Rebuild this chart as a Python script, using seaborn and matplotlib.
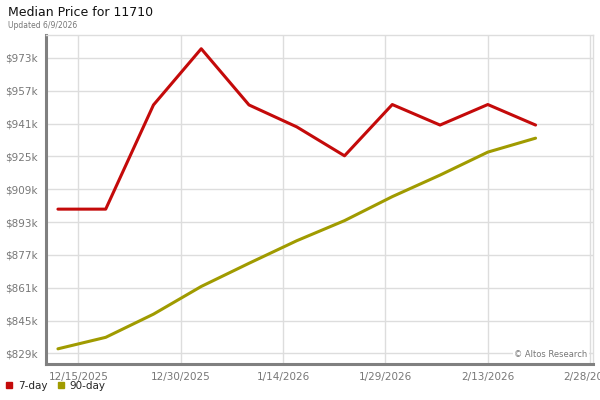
import pandas as pd
import numpy as np
import seaborn as sns
import matplotlib.pyplot as plt
import matplotlib.dates as mdates
from matplotlib.ticker import FuncFormatter
from matplotlib.lines import Line2D

# weekly median price readings
dates = ['2025-12-12', '2025-12-19', '2025-12-26', '2026-01-02', '2026-01-09', '2026-01-16',
         '2026-01-23', '2026-01-30', '2026-02-06', '2026-02-13', '2026-02-20']
price_7day = [899300, 899300, 950100, 977500, 950100, 939400, 925300, 950300, 940300, 950300, 940300]
price_90day = [831200, 836800, 848100, 861600, 872900, 883900, 893700, 905400, 915900, 927100, 933900]

ytick_vals = [829000, 845000, 861000, 877000, 893000, 909000, 925000, 941000, 957000, 973000]
xtick_dates = ['2025-12-15', '2025-12-30', '2026-01-14', '2026-01-29', '2026-02-13', '2026-02-28']

red = '#c40a0a'
olive = '#a09b00'

df = pd.DataFrame({'Date': pd.to_datetime(dates), '7-day': price_7day, '90-day': price_90day})
dt = df.melt(id_vars='Date', var_name='Series', value_name='Price')

sns.set_style('white')
plt.rcParams['font.family'] = ['DejaVu Sans']

fig = plt.figure(figsize=(6, 4), dpi=100)
ax = fig.add_axes([46/600, 36/400, 547/600, 329/400])

sns.lineplot(data=dt, x='Date', y='Price', hue='Series', palette={'7-day': red, '90-day': olive},
             linewidth=2.2, legend=False, ax=ax)

ax.set_ylim(823800, 984200)
ax.set_xlim(pd.Timestamp('2025-12-10 06:00'), pd.Timestamp('2026-02-28 10:00'))
ax.set_yticks(ytick_vals)
ax.yaxis.set_major_formatter(FuncFormatter(lambda v, p: '$%dk' % round(v / 1000)))
ax.set_xticks(pd.to_datetime(xtick_dates))

def date_label(v, p):
    d = mdates.num2date(v)
    return '%d/%d/%d' % (d.month, d.day, d.year)

ax.xaxis.set_major_formatter(FuncFormatter(date_label))
ax.tick_params(length=0, labelsize=7.5, labelcolor='#777777', pad=6)
ax.set_xlabel('')
ax.set_ylabel('')
ax.grid(True, color='#dddddd', linewidth=1)
ax.set_axisbelow(True)

for s in ['top', 'right']:
    ax.spines[s].set_color('#dddddd')
    ax.spines[s].set_linewidth(1)
for s in ['left', 'bottom']:
    ax.spines[s].set_color('#808080')
    ax.spines[s].set_linewidth(2.2)

ax.text(0.99, 0.03, '\u00a9 Altos Research', transform=ax.transAxes, ha='right', va='center',
        fontsize=6, color='#777777', bbox=dict(facecolor='white', edgecolor='none', pad=1))

fig.text(8/600, 1 - 12/400, 'Median Price for 11710', fontsize=9, color='#111111', va='center')
fig.text(8/600, 1 - 25/400, 'Updated 6/9/2026', fontsize=5.5, color='#777777', va='center')

handles = [Line2D([], [], marker='s', linestyle='none', color=red, markersize=5, label='7-day'),
           Line2D([], [], marker='s', linestyle='none', color=olive, markersize=5, label='90-day')]
fig.legend(handles=handles, loc='center left', bbox_to_anchor=(0, 1 - 386/400), ncol=2, frameon=False,
           fontsize=7.5, handletextpad=0.3, columnspacing=0.8, handlelength=1, borderaxespad=0)

fig.savefig('out.png', dpi=100)
